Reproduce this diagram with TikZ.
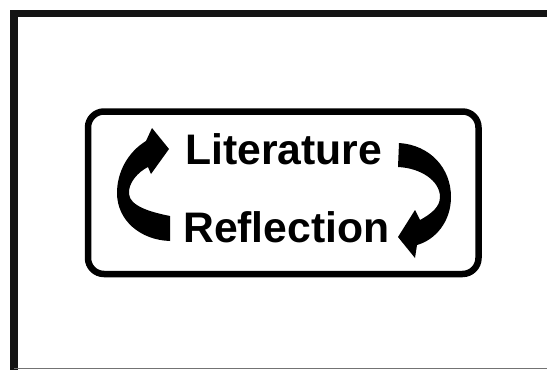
\documentclass[tikz,border=0pt]{standalone}
\usepackage{fontspec}
\setmainfont{Liberation Sans}
\begin{document}
\begin{tikzpicture}[x=1pt,y=-1pt,
  lbl/.style={font=\fontsize{42.7}{48}\selectfont\bfseries, anchor=base west, inner sep=0pt, text=black},
  box/.style={draw=black, line width=6.5pt, rounded corners=16pt},
  frameline/.style={draw=black!92, line width=7.5pt},
  baseline/.style={draw=black!55, line width=1.5pt},
  cyc/.style={fill=black}]
\useasboundingbox (0,0) rectangle (547,370);
\fill[white] (0,0) rectangle (547,370);
% outer frame
\draw[frameline] (14,370) -- (14,13.5) -- (547,13.5);
\draw[baseline] (14,368.5) -- (547,368.5);
% rounded box
\draw[box] (88,111.5) rectangle (478.5,274);
% texts
\node[lbl] (lit) at (185,164) {Literature};
\node[lbl] (ref) at (183,242) {Reflection};
% left cycle arrow
\fill[cyc] (170,216)
  .. controls (150,212) and (130,206) .. (129,194)
  .. controls (128,183) and (138,172) .. (148,167)
  -- (151,174) -- (169,149) -- (152,128) -- (146,141)
  .. controls (128,152) and (117,172) .. (117,193)
  .. controls (117,220) and (140,240) .. (170,241)
  -- cycle;
% right cycle arrow
\fill[cyc] (399,143)
  .. controls (430,145) and (451,168) .. (451,197)
  .. controls (451,222) and (435,240) .. (417,245)
  -- (415,258) -- (398,237) -- (415,210) -- (420,220)
  .. controls (431,214) and (440,207) .. (440,197)
  .. controls (440,181) and (421,168) .. (398,167)
  -- cycle;
\end{tikzpicture}
\end{document}
